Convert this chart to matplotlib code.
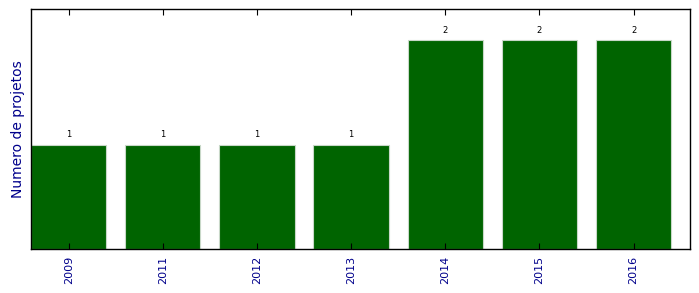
import matplotlib
matplotlib.use("Agg")
import matplotlib.pyplot as plt
import numpy as np

anos = ["2009", "2011", "2012", "2013", "2014", "2015", "2016"]
projetos = [1, 1, 1, 1, 2, 2, 2]

fig = plt.figure(figsize=(6.99, 2.93), dpi=100)
ax = fig.add_axes([0.0443, 0.150, 0.943, 0.819])

pos = np.arange(len(anos))
ax.bar(pos, projetos, width=0.8, align='edge', color='darkgreen',
       edgecolor='#c8d8c8', linewidth=0.8)

for x, v in zip(pos, projetos):
    ax.text(x + 0.4, v + 0.05, str(v), ha='center', va='bottom', fontsize=6)

ax.set_xlim(0, len(anos))
ax.set_ylim(0, 2.3)
ax.set_xticks(pos + 0.4)
ax.set_xticklabels(anos, rotation=90, color='darkblue', fontsize=8)
ax.set_yticks([])
ax.tick_params(axis='x', direction='in', top=True, bottom=True, length=4, width=0.8, pad=5)
ax.set_ylabel("Numero de projetos", color='darkblue', fontsize=10)
for s in ax.spines.values():
    s.set_linewidth(1.0)

fig.savefig("out.png", dpi=100)
